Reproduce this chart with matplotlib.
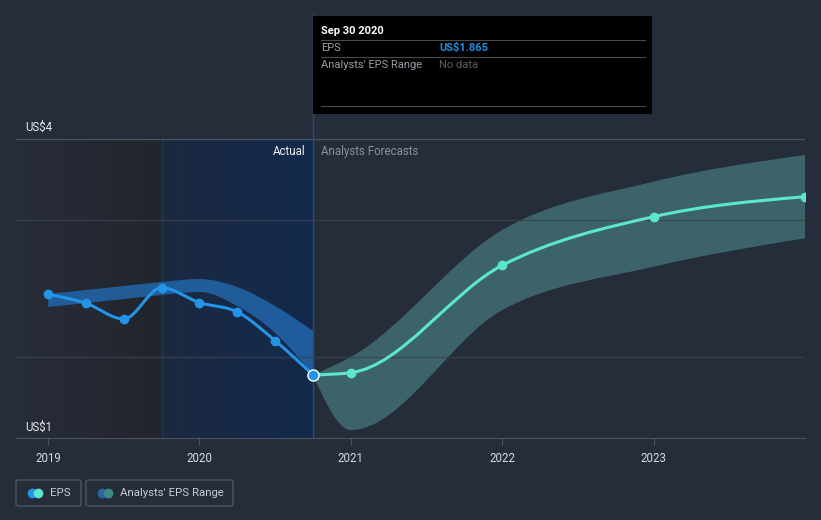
import numpy as np
import matplotlib
matplotlib.use("Agg")
import matplotlib.pyplot as plt
from matplotlib.path import Path
from matplotlib.patches import PathPatch, Rectangle, FancyBboxPatch
from matplotlib.lines import Line2D
from matplotlib.colors import LinearSegmentedColormap

plt.rcParams['font.family'] = ['Roboto', 'DejaVu Sans']

# actual EPS (quarter ends, decimal years)
x_act = [2019.0, 2019.25, 2019.5, 2019.75, 2020.0, 2020.25, 2020.5, 2020.75]
eps_act = [2.595, 2.514, 2.372, 2.655, 2.520, 2.435, 2.175, 1.865]
act_hi = [2.598, 2.634, 2.670, 2.706, 2.733, 2.661, 2.489, 2.263]
act_lo = [2.480, 2.516, 2.552, 2.589, 2.616, 2.489, 2.245, 1.865]

# analysts forecasts
x_fc = [2020.75, 2021.0, 2022.0, 2023.0, 2024.0]
eps_fc = [1.865, 1.886, 2.857, 3.297, 3.478]
fc_hi = [1.865, 2.028, 3.177, 3.614, 3.855]
fc_lo = [1.865, 1.367, 2.453, 2.845, 3.102]

years = [2019, 2020, 2021, 2022, 2023]
grid_vals = [4.0, 3.267, 2.028]

BG = '#262d3a'
W, H = 821, 520


def mono_verts(x, y):
	# monotone-x cubic as bezier vertices
	x = np.asarray(x, float)
	y = np.asarray(y, float)
	h = np.diff(x)
	d = np.diff(y) / h
	n = len(x)
	m = np.zeros(n)
	for i in range(1, n - 1):
		if d[i-1] * d[i] <= 0:
			m[i] = 0
		else:
			p = (d[i-1] * h[i] + d[i] * h[i-1]) / (h[i-1] + h[i])
			m[i] = (np.sign(d[i-1]) + np.sign(d[i])) * min(abs(d[i-1]), abs(d[i]), 0.5 * abs(p))
	m[0] = (3 * d[0] - m[1]) / 2 if n > 2 else d[0]
	m[-1] = (3 * d[-1] - m[-2]) / 2 if n > 2 else d[-1]
	verts = [(x[0], y[0])]
	for i in range(n - 1):
		verts.append((x[i] + h[i] / 3, y[i] + m[i] * h[i] / 3))
		verts.append((x[i+1] - h[i] / 3, y[i+1] - m[i+1] * h[i] / 3))
		verts.append((x[i+1], y[i+1]))
	return verts


def curve_path(x, y):
	v = mono_verts(x, y)
	codes = [Path.MOVETO] + [Path.CURVE4] * (len(v) - 1)
	return Path(v, codes)


def band_path(x, lo, hi):
	up = mono_verts(x, hi)
	dn = mono_verts(x, lo)[::-1]
	v = up + dn + [up[0]]
	codes = [Path.MOVETO] + [Path.CURVE4] * (len(up) - 1) + [Path.LINETO] + [Path.CURVE4] * (len(dn) - 1) + [Path.CLOSEPOLY]
	return Path(v, codes)


def fx(px):
	return px / W


def fy(py):
	return 1 - py / H


fig = plt.figure(figsize=(8.21, 5.2), dpi=100, facecolor=BG)
ax = fig.add_axes([fx(16), fy(438), fx(805) - fx(16), fy(139) - fy(438)])
ax.set_facecolor(BG)
x0, x1 = 2018.788, 2024.0
y0, y1 = 1.295, 4.0
ax.set_xlim(x0, x1)
ax.set_ylim(y0, y1)

# background shading for the past
grad = np.linspace(0, 1, 256).reshape(1, -1)
cm_dark = LinearSegmentedColormap.from_list('d', ['#272d39', '#21252d'])
cm_blue = LinearSegmentedColormap.from_list('b', ['#1c2a40', '#13294c'])
ax.imshow(grad, cmap=cm_dark, extent=[x0, 2019.75, y0, y1], aspect='auto', zorder=0)
ax.imshow(grad, cmap=cm_blue, extent=[2019.75, 2020.75, y0, y1], aspect='auto', zorder=0)
ax.axvline(2019.75, color='#26364f', lw=1, zorder=1)

# bands
ax.add_patch(PathPatch(band_path(x_act, act_lo, act_hi), facecolor='#2266aa', edgecolor='none', alpha=0.85, zorder=2))
ax.add_patch(PathPatch(band_path(x_fc, fc_lo, fc_hi), facecolor='#4b8a87', edgecolor='none', alpha=0.6, zorder=2))

# grid
for i, g in enumerate(grid_vals):
	ax.axhline(g, color='#4b5261' if i == 0 else '#3a414e', lw=1, alpha=1 if i == 0 else 0.8, zorder=3)

# lines
ax.add_patch(PathPatch(curve_path(x_act, eps_act), facecolor='none', edgecolor='#2394e6', lw=2.2, zorder=5))
ax.add_patch(PathPatch(curve_path(x_fc, eps_fc), facecolor='none', edgecolor='#5de6cf', lw=2.2, zorder=5))
ax.plot(x_act[:-1], eps_act[:-1], 'o', color='#2394e6', ms=6, zorder=6)
ax.plot(x_fc[1:], eps_fc[1:], 'o', color='#5de6cf', ms=6, zorder=6)
ax.plot(x_act[-1], eps_act[-1], 'o', color='#2394e6', mec='white', mew=1, ms=8, zorder=7)

# vertical divider up into the tooltip
ax.plot([2020.75, 2020.75], [0, (438 - 15) / 299], transform=ax.get_xaxis_transform(), color='#2a4a7c', lw=1, clip_on=False, zorder=4)

ax.set_xticks(years)
ax.set_xticklabels([str(y) for y in years])
ax.set_yticks([])
ax.tick_params(axis='x', length=5, color='#4b5261', labelcolor='#d8dbe0', labelsize=8.3, pad=5)
for s in ['top', 'left', 'right']:
	ax.spines[s].set_visible(False)
ax.spines['bottom'].set_color('#4b5261')

fig.text(fx(25), fy(127), 'US$4', color='#e6e8eb', fontsize=8.3, va='center')
fig.text(fx(25), fy(427), 'US$1', color='#e6e8eb', fontsize=8.3, va='center')
fig.text(fx(305), fy(151), 'Actual', color='#f0f0f0', fontsize=8.3, va='center', ha='right')
fig.text(fx(321), fy(151), 'Analysts Forecasts', color='#8b909a', fontsize=8.3, va='center')

# tooltip
fig.patches.append(Rectangle((fx(313), fy(114)), fx(652) - fx(313), fy(16) - fy(114), facecolor='black', edgecolor='none', transform=fig.transFigure, zorder=10))
for yy in [40, 57, 106]:
	fig.add_artist(Line2D([fx(321), fx(645)], [fy(yy), fy(yy)], color='#4a4a4a', lw=0.8, zorder=11))
fig.text(fx(321), fy(31), 'Sep 30 2020', color='white', fontsize=8, fontweight='bold', va='center', zorder=12)
fig.text(fx(321), fy(48), 'EPS', color='#9a9ea5', fontsize=8, va='center', zorder=12)
fig.text(fx(439), fy(48), 'US$1.865', color='#1e8fe1', fontsize=8, fontweight='bold', va='center', zorder=12)
fig.text(fx(321), fy(65), "Analysts' EPS Range", color='#9a9ea5', fontsize=8, va='center', zorder=12)
fig.text(fx(439), fy(65), 'No data', color='#5c5f64', fontsize=8, va='center', zorder=12)

# legend
for (l, r) in [(16, 81), (86, 233)]:
	fig.patches.append(FancyBboxPatch((fx(l), fy(506)), fx(r) - fx(l), fy(480) - fy(506), boxstyle='round,pad=0,rounding_size=0.003',
		facecolor='none', edgecolor='#4d5461', lw=1, transform=fig.transFigure))
fig.add_artist(Line2D([fx(32)], [fy(493)], marker='o', ms=7, color='#2394e6', mew=0))
fig.add_artist(Line2D([fx(38)], [fy(493)], marker='o', ms=7, color='#5de6cf', mew=0))
fig.add_artist(Line2D([fx(102)], [fy(493)], marker='o', ms=7, color='#2a64a0', mew=0))
fig.add_artist(Line2D([fx(108)], [fy(493)], marker='o', ms=7, color='#3f8a88', mew=0))
fig.text(fx(50), fy(493), 'EPS', color='#c8ccd2', fontsize=8.2, va='center')
fig.text(fx(120), fy(493), "Analysts' EPS Range", color='#c8ccd2', fontsize=8.2, va='center')

fig.savefig('out.png', dpi=100, facecolor=BG)
